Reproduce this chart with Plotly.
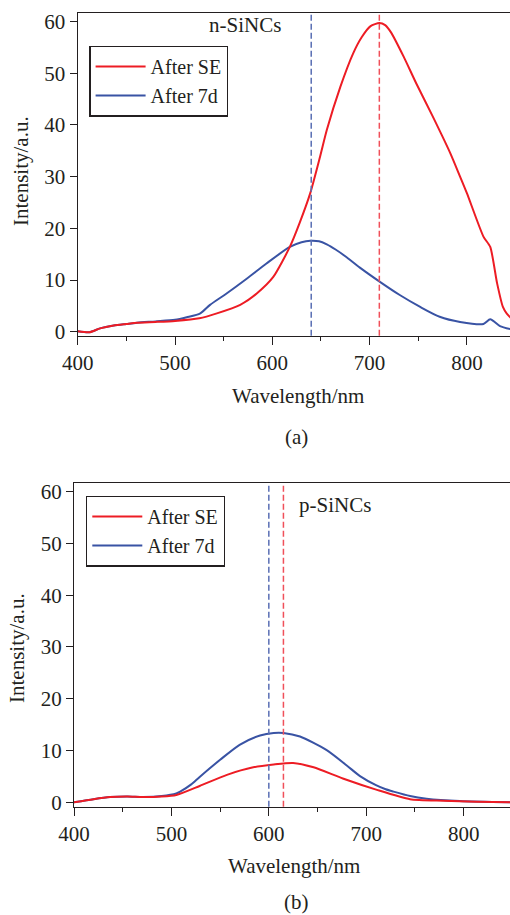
import plotly.graph_objects as go

# ---- data: panel (a) n-SiNCs ----
a_se_wl = [400, 412, 423, 437, 450, 461, 480, 500, 525, 543, 567, 584, 601, 618, 628, 639, 649, 656, 670, 683, 692, 701, 710, 716, 722, 735, 748, 765, 783, 793, 800, 817, 824, 831, 837, 841, 845]
a_se_int = [0.1, -0.1, 0.65, 1.2, 1.5, 1.75, 1.9, 2.1, 2.6, 3.55, 5.2, 7.4, 10.6, 16.4, 21.0, 26.8, 33.8, 39.0, 47.4, 53.8, 57.0, 59.1, 59.7, 59.3, 57.9, 53.2, 48.0, 41.6, 34.5, 30.0, 26.8, 18.4, 16.4, 9.4, 4.8, 3.5, 2.7]

a_7d_wl = [400, 412, 423, 437, 450, 461, 480, 500, 512, 526, 536, 553, 574, 594, 618, 630, 639, 648, 656, 665, 675, 690, 711, 731, 752, 772, 793, 817, 824, 834, 845]
a_7d_int = [0.1, -0.1, 0.65, 1.2, 1.5, 1.75, 2.0, 2.3, 2.8, 3.55, 5.2, 7.4, 10.3, 13.2, 16.4, 17.3, 17.6, 17.5, 16.9, 15.9, 14.6, 12.4, 9.6, 7.1, 4.8, 2.9, 1.9, 1.5, 2.4, 1.1, 0.5]

a_peaks = [640, 710]  # blue, red dashed markers

# ---- data: panel (b) p-SiNCs ----
b_se_wl = [400, 420, 437, 455, 471, 490, 505, 529, 557, 584, 605, 625, 646, 676, 711, 745, 779, 813, 848]
b_se_int = [0.0, 0.6, 1.0, 1.1, 1.0, 1.1, 1.4, 3.15, 5.3, 6.75, 7.3, 7.6, 6.75, 4.6, 2.4, 0.6, 0.3, 0.1, 0.0]

b_7d_wl = [400, 420, 437, 455, 471, 490, 505, 509, 520, 529, 550, 570, 591, 605, 615, 632, 659, 680, 694, 710, 720, 728, 745, 762, 796, 848]
b_7d_int = [0.0, 0.6, 1.0, 1.1, 1.0, 1.2, 1.7, 2.05, 3.4, 4.9, 8.2, 11.1, 12.9, 13.4, 13.4, 12.7, 10.1, 7.1, 5.0, 3.3, 2.5, 2.05, 1.2, 0.7, 0.25, 0.0]

b_peaks = [600, 615]

x_ticks = [400, 500, 600, 700, 800]
y_ticks = [0, 10, 20, 30, 40, 50, 60]

RED = "#ed1c24"
BLUE = "#3953a4"
RED_D = "#f0505a"
BLUE_D = "#5a6fb4"
INK = "#231f20"
FONT = "Liberation Serif"
FS = 21

fig = go.Figure()

def add_panel(wl_se, v_se, wl_7d, v_7d, xa, ya, legend):
    fig.add_trace(go.Scatter(x=wl_7d, y=v_7d, mode="lines", name="After 7d",
                             line=dict(color=BLUE, width=2, shape="spline", smoothing=0.7),
                             xaxis=xa, yaxis=ya, legend=legend, legendrank=2))
    fig.add_trace(go.Scatter(x=wl_se, y=v_se, mode="lines", name="After SE",
                             line=dict(color=RED, width=2, shape="spline", smoothing=0.6),
                             xaxis=xa, yaxis=ya, legend=legend, legendrank=1))

add_panel(a_se_wl, a_se_int, a_7d_wl, a_7d_int, "x", "y", "legend")
add_panel(b_se_wl, b_se_int, b_7d_wl, b_7d_int, "x2", "y2", "legend2")

# dashed peak markers
for xr, yr, peaks in [("x", "y domain", a_peaks), ("x2", "y2 domain", b_peaks)]:
    for p, c in zip(peaks, [BLUE_D, RED_D]):
        fig.add_shape(type="line", xref=xr, yref=yr, x0=p, x1=p, y0=0, y1=1,
                      line=dict(color=c, width=1.5, dash="6px,3px"))

axis_common = dict(showline=True, linecolor=INK, linewidth=1.3, mirror=True,
                   ticks="outside", tickcolor=INK, tickwidth=1.3,
                   showgrid=False, zeroline=False, automargin=False,
                   tickfont=dict(family=FONT, size=FS, color=INK))

xcommon = dict(axis_common, tickvals=x_ticks, ticklen=8,
               minor=dict(dtick=50, tick0=400, ticks="outside", ticklen=4,
                          tickcolor=INK, tickwidth=1.3, showgrid=False))
ycommon = dict(axis_common, tickvals=y_ticks, ticklen=7, mirror=False)

legend_common = dict(xanchor="left", yanchor="top", bordercolor=INK, borderwidth=1.3,
                     bgcolor="white", itemwidth=50, tracegroupgap=0,
                     font=dict(family=FONT, size=20, color=INK))

fig.update_layout(
    width=510, height=915, autosize=False,
    margin=dict(l=0, r=0, t=0, b=0, pad=0, autoexpand=False),
    paper_bgcolor="white", plot_bgcolor="white",
    font=dict(family=FONT, size=FS, color=INK),
    xaxis=dict(xcommon, domain=[0.1524, 1.0], range=[400, 844.3], anchor="y"),
    yaxis=dict(ycommon, domain=[0.6331, 0.9861], range=[-0.77, 61.7], anchor="x"),
    xaxis2=dict(xcommon, domain=[0.1451, 1.0], range=[400, 847.6], anchor="y2"),
    yaxis2=dict(ycommon, domain=[0.1184, 0.4718], range=[-0.85, 61.6], anchor="x2"),
    legend=dict(legend_common, x=89.3 / 510, y=1 - 45.7 / 915),
    legend2=dict(legend_common, x=86 / 510, y=1 - 495.7 / 915),
    showlegend=True,
)

def ann(text, x, y, angle=0):
    fig.add_annotation(text=text, x=x / 510, y=1 - y / 915, xref="paper", yref="paper",
                       xanchor="center", yanchor="middle", showarrow=False, textangle=angle,
                       font=dict(family=FONT, size=FS, color=INK))

ann("n-SiNCs", 244.5, 25)
ann("p-SiNCs", 335, 505)
ann("Wavelength/nm", 297.5, 396)
ann("Wavelength/nm", 294, 866)
ann("(a)", 296.7, 437)
ann("(b)", 296.7, 902)
ann("Intensity/a.u.", 21, 171, -90)
ann("Intensity/a.u.", 17, 648, -90)

fig.write_html("out.html", config={"displayModeBar": False},
               post_script="document.body.style.margin='0';document.body.style.overflow='hidden';")
